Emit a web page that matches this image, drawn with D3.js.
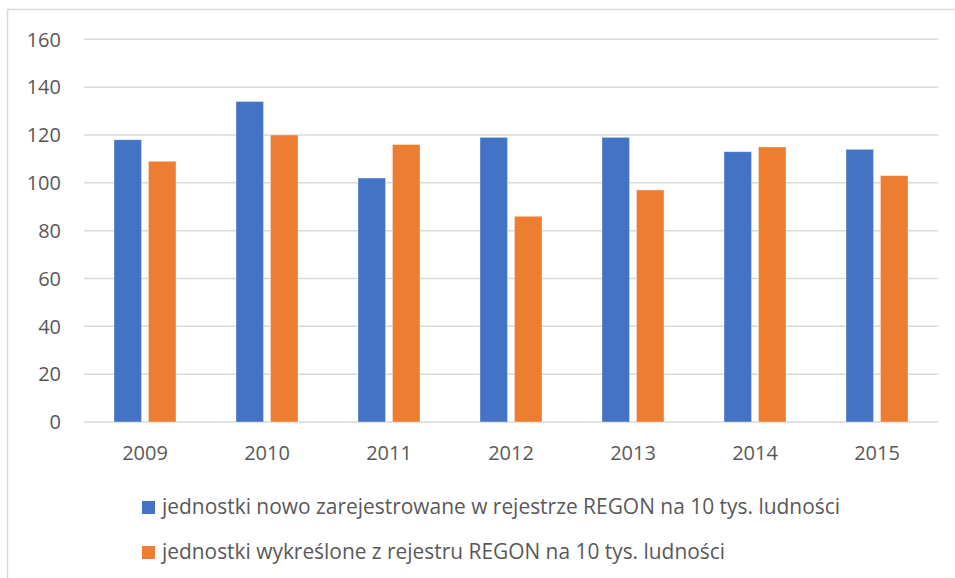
<!DOCTYPE html>
<html>
<head>
<meta charset="utf-8">
<script src="https://cdn.jsdelivr.net/npm/d3@7"></script>
<style>
  html, body { margin: 0; padding: 0; background: #fff; }
  svg { display: block; }
  text { font-family: "Open Sans", sans-serif; fill: #595959; }
</style>
</head>
<body>
<svg id="chart" width="955" height="578"></svg>
<script>
// Years on the category axis
const years = ["2009", "2010", "2011", "2012", "2013", "2014", "2015"];
// Newly registered units in REGON per 10k inhabitants
const registered = [118, 134, 102, 119, 119, 113, 114];
// Units removed from REGON per 10k inhabitants
const removed = [109, 120, 116, 86, 97, 115, 103];
// Value axis ticks
const yTicks = [0, 20, 40, 60, 80, 100, 120, 140, 160];
// Series names and colours for the legend
const seriesNames = [
  "jednostki nowo zarejestrowane w rejestrze REGON na 10 tys. ludności",
  "jednostki wykreślone z rejestru REGON na 10 tys. ludności"
];
const seriesColors = ["#4472C4", "#ED7D31"];
// Rendered widths of the legend entries
const legendWidths = [678, 563];

const svg = d3.select("#chart");

// Outer chart frame
svg.append("rect")
  .attr("x", 7.5).attr("y", 9.5)
  .attr("width", 1000).attr("height", 700)
  .attr("fill", "none")
  .attr("stroke", "#d9d9d9")
  .attr("stroke-width", 1.5);

const x0 = d3.scaleBand().domain(years).range([84, 938]).padding(0);
const x1 = d3.scaleBand()
  .domain([0, 1])
  .range([30, x0.bandwidth() - 30])
  .paddingInner(0.2);
const y = d3.scaleLinear().domain([0, 160]).range([422, 39.3]);

// Horizontal gridlines
svg.append("g")
  .selectAll("line")
  .data(yTicks)
  .join("line")
  .attr("x1", 84).attr("x2", 938)
  .attr("y1", d => y(d)).attr("y2", d => y(d))
  .attr("stroke", "#d9d9d9")
  .attr("stroke-width", 1.5);

// Value axis labels
const yAxis = d3.axisLeft(y).tickValues(yTicks).tickSize(0).tickPadding(0);
const yg = svg.append("g").attr("transform", "translate(61,0)").call(yAxis);
yg.select(".domain").remove();
yg.selectAll("text")
  .attr("font-family", "Open Sans, sans-serif")
  .attr("font-size", 20)
  .attr("fill", "#595959")
  .attr("dy", "0.34em");

// Bars
const rows = years.map((yr, i) => ({ year: yr, values: [registered[i], removed[i]] }));
svg.append("g")
  .selectAll("g")
  .data(rows)
  .join("g")
  .attr("transform", d => `translate(${x0(d.year)},0)`)
  .selectAll("rect")
  .data(d => d.values.map((v, k) => ({ k, v })))
  .join("rect")
  .attr("x", d => x1(d.k))
  .attr("width", x1.bandwidth())
  .attr("y", d => y(d.v))
  .attr("height", d => y(0) - y(d.v))
  .attr("fill", d => seriesColors[d.k])
  .attr("stroke", "#ffffff")
  .attr("stroke-opacity", 0.45)
  .attr("stroke-width", 0.8);

// Category axis labels
const xAxis = d3.axisBottom(x0).tickSize(0).tickPadding(0);
const xg = svg.append("g").attr("transform", "translate(0,460)").call(xAxis);
xg.select(".domain").remove();
xg.selectAll("text")
  .attr("font-family", "Open Sans, sans-serif")
  .attr("font-size", 20)
  .attr("fill", "#595959")
  .attr("dy", 0)
  .attr("y", 0);

// Legend
const legend = svg.append("g")
  .selectAll("g")
  .data(seriesNames)
  .join("g")
  .attr("transform", (d, i) => `translate(142,${514 + i * 45})`);
legend.append("rect")
  .attr("x", 0).attr("y", -13)
  .attr("width", 13).attr("height", 13)
  .attr("fill", (d, i) => seriesColors[i]);
legend.append("text")
  .attr("x", 20).attr("y", 0)
  .attr("font-size", 21)
  .attr("textLength", (d, i) => legendWidths[i])
  .attr("lengthAdjust", "spacingAndGlyphs")
  .text(d => d);
</script>
</body>
</html>
